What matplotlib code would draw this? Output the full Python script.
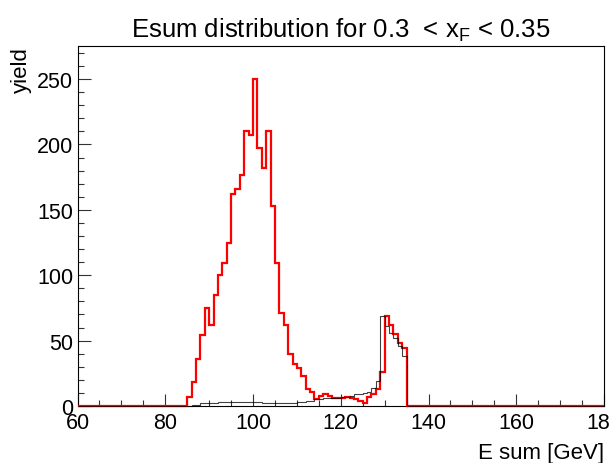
import numpy as np
import matplotlib
matplotlib.use("Agg")
import matplotlib.pyplot as plt
from matplotlib.ticker import MultipleLocator

plt.rcParams['font.family'] = ['Liberation Sans', 'DejaVu Sans']
plt.rcParams['mathtext.fontset'] = 'custom'
plt.rcParams['mathtext.rm'] = 'Liberation Sans'

# 1 GeV bins from 60 to 180
bin_edges = np.arange(60, 181, 1)

# red: all events, bins 85..134 GeV
red_start = 85
red_counts = [7, 18, 36, 54, 75, 62, 85, 100, 109, 125,
              162, 166, 177, 210, 207, 250, 197, 182, 210, 153,
              109, 71, 62, 40, 32, 29, 23, 13, 11, 5,
              8, 9, 8, 6, 6, 6, 7, 6, 5, 4,
              2, 7, 9, 13, 26, 69, 62, 55, 48, 44]

# black: second sample, bins 85..134 GeV
black_start = 85
black_counts = [0, 1, 1, 2, 2, 2, 2, 3, 3, 3,
                3, 3, 3, 3, 3, 3, 3, 2, 2, 2,
                2, 2, 2, 2, 2, 3, 3, 4, 4, 5,
                5, 6, 6, 6, 6, 7, 7, 8, 9, 9,
                10, 11, 14, 19, 69, 61, 56, 52, 46, 38]


def fill(start, counts):
    h = np.zeros(len(bin_edges) - 1)
    i = start - bin_edges[0]
    h[i:i + len(counts)] = counts
    return h


h_red = fill(red_start, red_counts)
h_black = fill(black_start, black_counts)

fig = plt.figure(figsize=(6.09, 4.64), dpi=100)
ax = fig.add_axes([0.1273, 0.1228, 0.9918 - 0.1273, 0.898 - 0.1228])

ax.stairs(h_red, bin_edges, color='#ff0000', lw=1.6, clip_on=False, zorder=3)
ax.stairs(h_black, bin_edges, color='black', lw=0.8, alpha=0.75, clip_on=False, zorder=4)

ax.set_xlim(60, 180)
ax.set_ylim(0, 275)

ax.xaxis.set_major_locator(MultipleLocator(20))
ax.xaxis.set_minor_locator(MultipleLocator(5))
ax.yaxis.set_major_locator(MultipleLocator(50))
ax.yaxis.set_minor_locator(MultipleLocator(10))
ax.tick_params(which='both', direction='in', top=False, right=False,
               labelsize=15.5, color='#333333', width=0.8)
ax.tick_params(axis='x', which='major', length=8.3, pad=4)
ax.tick_params(axis='y', which='major', length=9, pad=3)
ax.tick_params(which='minor', length=4.5)
for s in ax.spines.values():
    s.set_linewidth(0.8)

ax.set_title(r'Esum distribution for 0.3  < $\mathrm{x_F}$ < 0.35', fontsize=18.5, pad=7)
ax.set_xlabel('E sum [GeV]', fontsize=16, loc='right', labelpad=7)
ax.set_ylabel('yield', fontsize=16, loc='top', labelpad=4)

fig.savefig('out.png', dpi=100)
